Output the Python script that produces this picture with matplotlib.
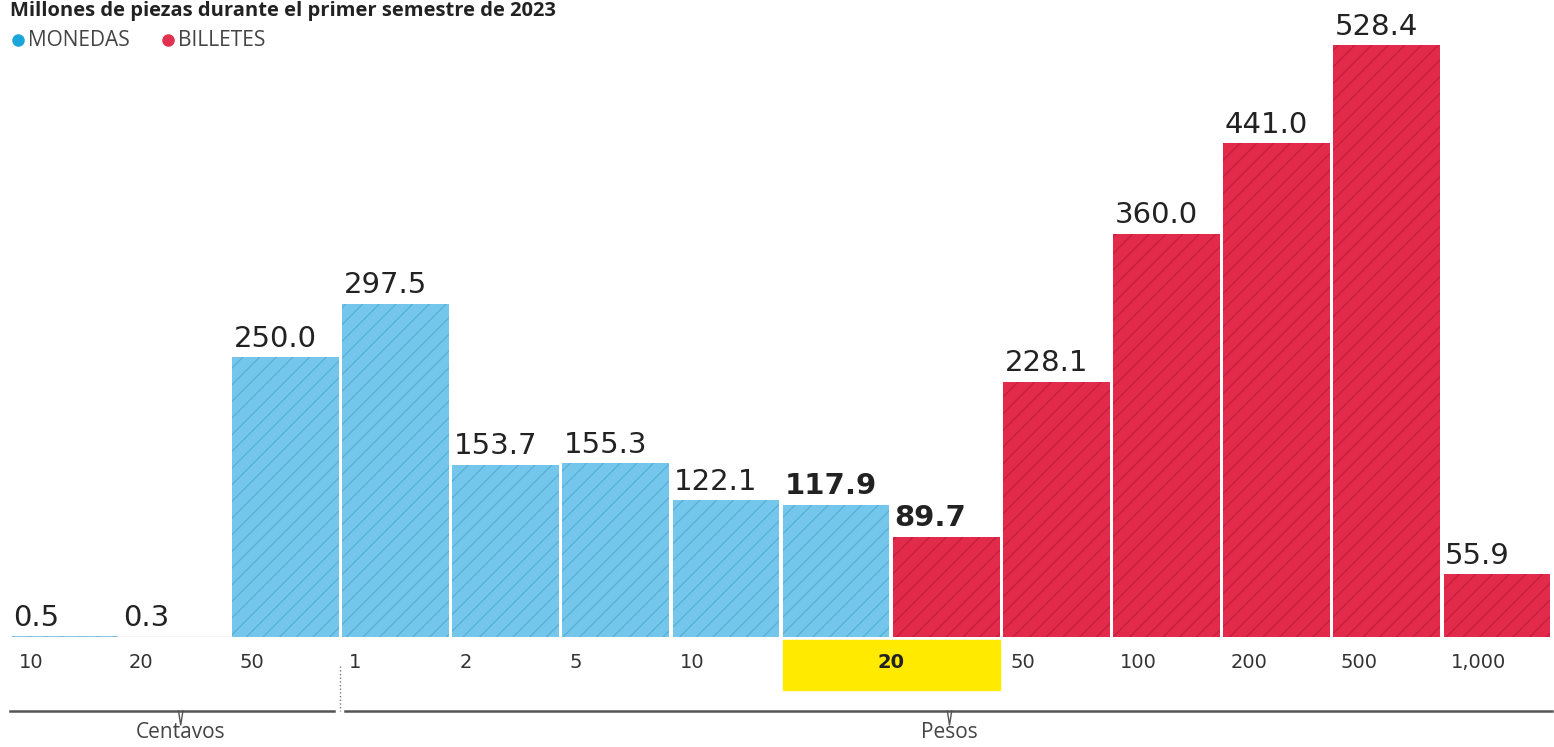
import matplotlib.pyplot as plt
from matplotlib import transforms
from matplotlib.patches import Rectangle

plt.rcParams['font.family'] = ['DejaVu Sans']
plt.rcParams['hatch.linewidth'] = 0.9

# data
denoms = ['10', '20', '50', '1', '2', '5', '10', '20', '20', '50', '100', '200', '500', '1,000']
values = [0.5, 0.3, 250.0, 297.5, 153.7, 155.3, 122.1, 117.9, 89.7, 228.1, 360.0, 441.0, 528.4, 55.9]
kind = ['m'] * 8 + ['b'] * 6
bold_idx = [7, 8]
groups = [('Centavos', 0, 2), ('Pesos', 3, 13)]
title = 'Millones de piezas durante el primer semestre de 2023'

W, H = 1554, 747
blue, red = '#74C7EA', '#E22B4B'
hatch_col = {'m': '#56AFD8', 'b': '#C41D3B'}
face = {'m': blue, 'b': red}

fig = plt.figure(figsize=(W / 100, H / 100), dpi=100)
ax = fig.add_axes([10 / W, (H - 637) / H, 1542 / W, 637 / H])
ax.set_xlim(-0.5, len(values) - 0.5)
ax.set_ylim(0, 637 / 1.12)
ax.axis('off')

for i, (v, k) in enumerate(zip(values, kind)):
    ax.bar(i, v, width=0.97, color=face[k], edgecolor=hatch_col[k],
           linewidth=0, hatch='//')
    ax.text(i - 0.47, v + 4, f'{v:.1f}', ha='left', va='bottom',
            fontsize=21, color='#222222',
            fontweight='bold' if i in bold_idx else 'normal')

# faint baseline under the tiny bars
ax.plot([-0.5, 1.5], [0.4, 0.4], color='#cccccc', lw=1)

tb = transforms.blended_transform_factory(ax.transData, fig.transFigure)

# highlight box for 20
ax.add_patch(Rectangle((6.515, 1 - 690 / H), 1.97, 50 / H, transform=tb,
                       color='#FFEA00', clip_on=False, zorder=1))

ytick = 1 - 663 / H
for i, d in enumerate(denoms):
    if i == 7:
        ax.text(7.5, ytick, '20', transform=tb, ha='center', va='center',
                fontsize=14, fontweight='bold', color='#222222', zorder=3)
    elif i == 8:
        continue
    else:
        ax.text(i - 0.42, ytick, d, transform=tb, ha='left', va='center',
                fontsize=14, color='#333333', zorder=3)

# group brackets
yb = 1 - 711 / H
for name, a, b in groups:
    if a == 0:
        x0, x1 = -0.5, b + 0.44
        xm = 1.05
    else:
        x0, x1 = a - 0.46, b + 0.5
        xm = 8.03
    ax.plot([x0, x1], [yb, yb], transform=tb, color='#555555', lw=1.8,
            clip_on=False)
    ax.plot([xm - 0.02, xm, xm + 0.02], [yb, yb - 14 / H, yb], transform=tb,
            color='#555555', lw=1, clip_on=False)
    ax.text(xm, 1 - 733 / H, name, transform=tb, ha='center', va='center',
            fontsize=15, color='#444444', family='Open Sans')
ax.plot([2.5, 2.5], [1 - 666 / H, yb], transform=tb, color='#777777',
        lw=1, ls=':', clip_on=False)

# title and legend
fig.text(10 / W, 1 - 1 / H, title, ha='left', va='top', fontsize=14.5,
         fontweight='bold', color='#222222', family='Open Sans')
for x, lab, c in [(18, 'MONEDAS', '#1AA6DA'), (168, 'BILLETES', '#E0314F')]:
    fig.add_artist(plt.Line2D([x / W], [1 - 40 / H], marker='o', markersize=8,
                              color=c, transform=fig.transFigure))
    fig.text((x + 10) / W, 1 - 40 / H, lab, ha='left', va='center',
             fontsize=15, color='#444444', family='Open Sans')

fig.savefig('out.png', dpi=100)
